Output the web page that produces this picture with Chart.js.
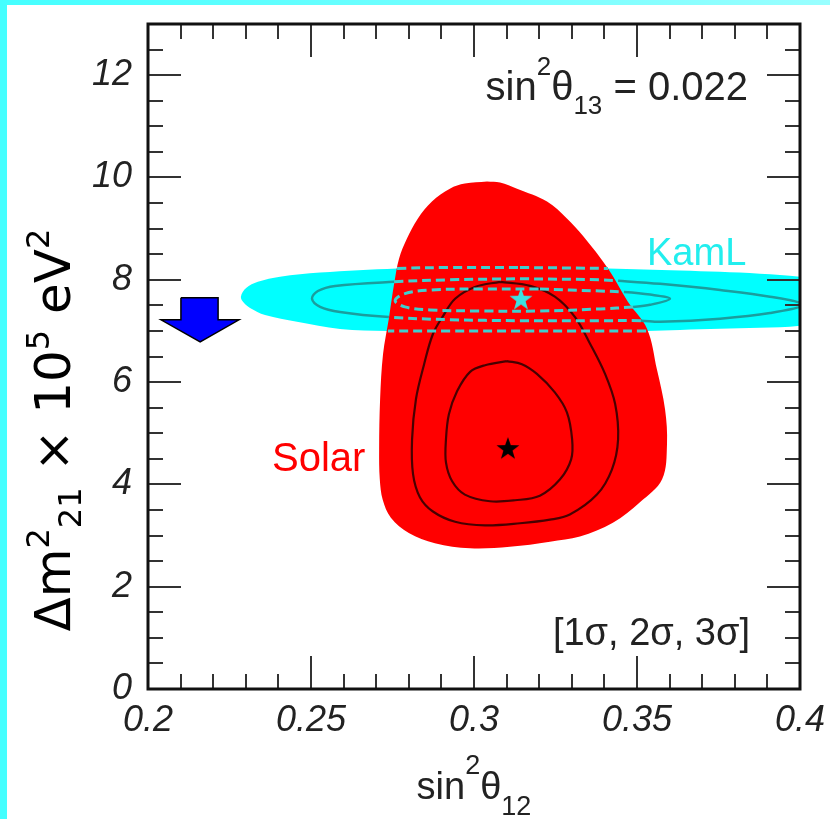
<!DOCTYPE html>
<html><head><meta charset="utf-8">
<script src="https://cdn.jsdelivr.net/npm/chart.js@4.4.1/dist/chart.umd.min.js"></script>
<style>
html,body{margin:0;padding:0;background:#fff;}
#wrap{position:relative;width:830px;height:819px;overflow:hidden;}
#c{position:absolute;left:0;top:0;}
.stripL{position:absolute;left:0;top:0;width:7px;height:819px;background:#4ff;}
.stripT{position:absolute;left:0;top:0;width:830px;height:5px;background:linear-gradient(to right,#4ff,#9ff);}
</style></head><body>
<div id="wrap"><canvas id="c" width="830" height="819"></canvas><div class="stripL"></div><div class="stripT"></div></div>
<script>
// ---- axis ticks ----
const xTickValues = [0.2, 0.25, 0.3, 0.35, 0.4];
const xTickLabels = ['0.2', '0.25', '0.3', '0.35', '0.4'];
const yTickValues = [0, 2, 4, 6, 8, 10, 12];
const yTickLabels = ['0', '2', '4', '6', '8', '10', '12'];

// ---- Solar allowed regions (sin^2 theta12, dm2 x 1e5) ----
const solar3Sigma = [[0.3040,9.92],[0.2972,9.88],[0.2926,9.78],[0.2871,9.53],[0.2828,9.20],[0.2794,8.80],[0.2770,8.41],[0.2755,7.92],[0.2739,7.25],[0.2721,6.55],[0.2712,5.67],[0.2709,4.69],[0.2711,4.10],[0.2720,3.70],[0.2745,3.35],[0.2800,3.05],[0.2880,2.85],[0.2988,2.75],[0.3110,2.78],[0.3233,2.88],[0.3325,2.98],[0.3426,3.25],[0.3509,3.65],[0.3577,4.10],[0.3592,4.78],[0.3586,5.47],[0.3561,6.25],[0.3531,7.04],[0.3472,7.57],[0.3411,8.22],[0.3334,8.86],[0.3285,9.20],[0.3224,9.53],[0.3132,9.78],[0.3080,9.90],[0.3040,9.92]];
const solar2Sigma = [[0.3080,7.96],[0.3003,7.86],[0.2942,7.63],[0.2905,7.29],[0.2874,6.94],[0.2847,6.35],[0.2822,5.67],[0.2810,4.88],[0.2813,4.20],[0.2834,3.75],[0.2874,3.47],[0.2942,3.27],[0.3034,3.20],[0.3141,3.24],[0.3233,3.31],[0.3294,3.41],[0.3377,3.80],[0.3423,4.29],[0.3442,4.88],[0.3433,5.57],[0.3402,6.16],[0.3356,6.75],[0.3310,7.27],[0.3248,7.67],[0.3172,7.88],[0.3080,7.96]];
const solar1Sigma = [[0.3101,6.41],[0.3034,6.33],[0.2988,6.20],[0.2948,5.82],[0.2923,5.37],[0.2914,4.88],[0.2914,4.43],[0.2933,4.06],[0.2972,3.80],[0.3049,3.67],[0.3126,3.69],[0.3202,3.78],[0.3264,4.10],[0.3298,4.49],[0.3301,4.88],[0.3285,5.41],[0.3248,5.80],[0.3193,6.16],[0.3147,6.35],[0.3101,6.41]];
const solarBestFit = [0.3104, 4.71];

// ---- KamLAND allowed regions ----
const kamland3Sigma = [[0.3141,8.24],[0.3411,8.22],[0.3632,8.18],[0.3877,8.12],[0.4000,8.06],[0.4184,7.92],[0.4307,7.63],[0.4184,7.31],[0.4000,7.10],[0.3877,7.06],[0.3632,7.02],[0.3528,7.00],[0.3387,7.00],[0.3141,7.00],[0.2926,7.00],[0.2736,7.00],[0.2589,7.04],[0.2457,7.18],[0.2359,7.31],[0.2313,7.45],[0.2294,7.55],[0.2285,7.67],[0.2301,7.84],[0.2337,7.96],[0.2405,8.06],[0.2528,8.14],[0.2764,8.22],[0.2926,8.24],[0.3141,8.24]];
const kamland2Sigma = [[0.3141,8.02],[0.3387,8.00],[0.3442,7.98],[0.3571,7.92],[0.3755,7.80],[0.3908,7.67],[0.4009,7.51],[0.3908,7.35],[0.3755,7.24],[0.3571,7.18],[0.3512,7.20],[0.3387,7.20],[0.3141,7.20],[0.2926,7.22],[0.2739,7.27],[0.2589,7.37],[0.2528,7.47],[0.2503,7.63],[0.2521,7.78],[0.2574,7.88],[0.2755,7.96],[0.2926,8.00],[0.3141,8.02]];
const kamland1Sigma = [[0.3202,7.82],[0.3387,7.78],[0.3460,7.76],[0.3540,7.71],[0.3601,7.63],[0.3540,7.51],[0.3488,7.47],[0.3387,7.43],[0.3202,7.39],[0.3018,7.39],[0.2865,7.41],[0.2788,7.47],[0.2758,7.59],[0.2788,7.73],[0.2865,7.80],[0.3018,7.82],[0.3202,7.82]];
const kamlandBestFit = [0.3144, 7.63];

// ---- blue arrow marker (outline in data coords) ----
const arrowOutline = [[0.2101,7.647],[0.2215,7.647],[0.2215,7.216],[0.2279,7.216],[0.2160,6.784],[0.2040,7.216],[0.2101,7.216],[0.2101,7.647]];

const pts = arr => arr.map(([x, y]) => ({x, y}));

function inSolar(x, y) {
  let inside = false;
  for (let i = 0, j = solar3Sigma.length - 1; i < solar3Sigma.length; j = i++) {
    const [xi, yi] = solar3Sigma[i], [xj, yj] = solar3Sigma[j];
    if (((yi > y) !== (yj > y)) && (x < (xj - xi) * (y - yi) / (yj - yi) + xi)) inside = !inside;
  }
  return inside;
}
function segIn(c) {
  const mx = (c.p0.parsed.x + c.p1.parsed.x) / 2, my = (c.p0.parsed.y + c.p1.parsed.y) / 2;
  return inSolar(mx, my);
}
const seg = outside => ({
  borderColor: c => segIn(c) ? '#3fcfcf' : outside,
  borderWidth: c => segIn(c) ? 3 : 2.5,
  borderDash: c => segIn(c) ? [9, 5] : []
});

function makeStar(color, size) {
  const c = document.createElement('canvas');
  c.width = c.height = size;
  const g = c.getContext('2d');
  g.beginPath();
  for (let i = 0; i < 10; i++) {
    const r = i % 2 ? size * 0.2 : size * 0.5;
    const a = -Math.PI / 2 + i * Math.PI / 5;
    const px = size / 2 + r * Math.cos(a), py = size / 2 + 1 + r * Math.sin(a);
    i ? g.lineTo(px, py) : g.moveTo(px, py);
  }
  g.closePath();
  g.fillStyle = color;
  g.fill();
  return c;
}

const SANS = '"Liberation Sans", Arial, Helvetica, sans-serif';
function rich(ctx, parts, x, y, align, family, color) {
  ctx.fillStyle = color;
  ctx.textBaseline = 'alphabetic';
  ctx.textAlign = 'left';
  let w = 0;
  for (const p of parts) { ctx.font = `${p[1]}px ${family}`; w += ctx.measureText(p[0]).width; }
  let cx = align === 'right' ? x - w : align === 'center' ? x - w / 2 : x;
  for (const p of parts) {
    ctx.font = `${p[1]}px ${family}`;
    ctx.fillText(p[0], cx, y + p[2]);
    cx += ctx.measureText(p[0]).width;
  }
}

const decor = {
  id: 'decor',
  afterDatasetsDraw(chart) {
    const {ctx, chartArea: a, scales: {x, y}} = chart;
    ctx.save();
    ctx.strokeStyle = '#333';
    ctx.lineWidth = 2;
    const ln = (x1, y1, x2, y2) => { ctx.beginPath(); ctx.moveTo(x1, y1); ctx.lineTo(x2, y2); ctx.stroke(); };
    for (let i = 0; i <= 20; i++) {
      const px = Math.round(x.getPixelForValue(0.2 + i * 0.01));
      const len = i % 5 === 0 ? 33 : 15;
      ln(px, a.bottom, px, a.bottom - len);
      ln(px, a.top, px, a.top + len);
    }
    for (let i = 0; i <= 26; i++) {
      const py = Math.round(y.getPixelForValue(i * 0.5));
      const len = i % 4 === 0 ? 33 : 15;
      ln(a.left, py, a.left + len, py);
      ln(a.right, py, a.right - len, py);
    }
    ctx.lineWidth = 3;
    ctx.strokeStyle = '#111';
    ctx.strokeRect(a.left, a.top, a.right - a.left, a.bottom - a.top);
    ctx.restore();
  },
  afterDraw(chart) {
    const ctx = chart.ctx;
    ctx.save();
    rich(ctx, [['sin', 40, 0], ['2', 26, -25], ['θ', 40, 0], ['13', 26, 14], [' = 0.022', 40, 0]], 748, 100, 'right', SANS, '#222');
    rich(ctx, [['KamL', 38, 0]], 647, 265, 'left', SANS, '#22eeee');
    rich(ctx, [['Solar', 40, 0]], 272, 471, 'left', SANS, '#ff0000');
    rich(ctx, [['[1σ, 2σ, 3σ]', 38, 0]], 750, 645, 'right', SANS, '#222');
    rich(ctx, [['sin', 38, 0], ['2', 27, -25], ['θ', 38, 0], ['12', 27, 16]], 474, 799, 'center', SANS, '#222');
    ctx.translate(70, 430);
    ctx.rotate(-Math.PI / 2);
    rich(ctx, [['Δm', 50, 0], ['2', 32, -21], ['21', 32, 11], [' × 10', 50, 0], ['5', 32, -21], [' eV', 50, 0], ['2', 32, -21]], 0, 0, 'center', '"DejaVu Sans", Verdana, sans-serif', '#000');
    ctx.restore();
  }
};

const tickFont = {family: SANS, size: 36, style: 'italic', lineHeight: 1.2};

new Chart(document.getElementById('c'), {
  type: 'scatter',
  data: {
    datasets: [
      {label: 'KamLAND 3σ region', data: pts(kamland3Sigma), showLine: true, fill: 'shape', backgroundColor: '#00ffff', borderColor: 'rgba(0,0,0,0)', borderWidth: 0, pointRadius: 0, tension: 0.35, order: 10},
      {label: 'Solar 3σ region', data: pts(solar3Sigma), showLine: true, fill: 'shape', backgroundColor: '#ff0000', borderColor: 'rgba(0,0,0,0)', borderWidth: 0, pointRadius: 0, tension: 0.35, order: 9},
      {label: 'Solar 2σ', data: pts(solar2Sigma), showLine: true, fill: false, borderColor: 'rgba(40,0,0,0.85)', borderWidth: 2.2, pointRadius: 0, tension: 0.35, order: 6},
      {label: 'Solar 1σ', data: pts(solar1Sigma), showLine: true, fill: false, borderColor: 'rgba(40,0,0,0.85)', borderWidth: 2.2, pointRadius: 0, tension: 0.35, order: 6},
      {label: 'KamLAND 3σ', data: pts(kamland3Sigma), showLine: true, fill: false, borderColor: 'rgba(0,0,0,0)', borderWidth: 2.5, pointRadius: 0, tension: 0.35, segment: seg('rgba(0,0,0,0)'), order: 4},
      {label: 'KamLAND 2σ', data: pts(kamland2Sigma), showLine: true, fill: false, borderColor: '#1a9e9e', borderWidth: 2.5, pointRadius: 0, tension: 0.35, segment: seg('#1a9e9e'), order: 4},
      {label: 'KamLAND 1σ', data: pts(kamland1Sigma), showLine: true, fill: false, borderColor: '#1a9e9e', borderWidth: 2.5, pointRadius: 0, tension: 0.35, segment: seg('#1a9e9e'), order: 4},
      {label: 'arrow', data: pts(arrowOutline), showLine: true, fill: 'shape', backgroundColor: '#0000ff', borderColor: '#000', borderWidth: 1.5, pointRadius: 0, tension: 0, order: 2},
      {label: 'Solar best fit', data: [{x: solarBestFit[0], y: solarBestFit[1]}], pointStyle: makeStar('#000', 24), order: 1},
      {label: 'KamLAND best fit', data: [{x: kamlandBestFit[0], y: kamlandBestFit[1]}], pointStyle: makeStar('#3ee0e0', 24), order: 1}
    ]
  },
  options: {
    responsive: false,
    animation: false,
    devicePixelRatio: 1,
    layout: {padding: {left: 0, top: 24, right: 30, bottom: 0}},
    plugins: {legend: {display: false}, tooltip: {enabled: false}},
    scales: {
      x: {
        type: 'linear', min: 0.2, max: 0.4, position: 'bottom',
        grid: {display: false, drawTicks: false}, border: {display: false},
        afterBuildTicks: s => { s.ticks = xTickValues.map(v => ({value: v})); },
        afterFit: s => { s.height = 130; s.paddingLeft = 0; s.paddingRight = 0; s.paddingTop = 0; s.paddingBottom = 0; },
        ticks: {callback: (v, i) => xTickLabels[i], font: tickFont, color: '#222', padding: 10, maxRotation: 0, autoSkip: false}
      },
      y: {
        type: 'linear', min: 0, max: 13, position: 'left',
        grid: {display: false, drawTicks: false}, border: {display: false},
        afterBuildTicks: s => { s.ticks = yTickValues.map(v => ({value: v})); },
        afterFit: s => { s.width = 148; s.paddingTop = 0; s.paddingBottom = 0; s.paddingLeft = 0; s.paddingRight = 0; },
        ticks: {callback: (v, i) => yTickLabels[i], font: tickFont, color: '#222', padding: 16, autoSkip: false}
      }
    }
  },
  plugins: [decor]
});
</script>
</body></html>
